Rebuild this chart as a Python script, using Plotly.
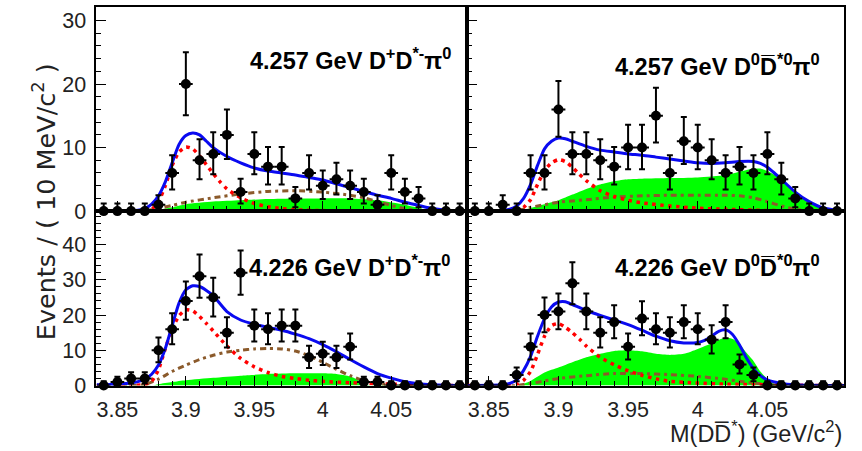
import plotly.graph_objects as go

W = 862
REF_H = 451          # pixel grid of the target picture
H = 460              # page is captured slightly taller and scaled to 451

# ---------------- data ----------------
mass_bins = [3.84, 3.85, 3.86, 3.87, 3.88, 3.89, 3.90, 3.91, 3.92, 3.93, 3.94, 3.95, 3.96, 3.97,
             3.98, 3.99, 4.00, 4.01, 4.02, 4.03, 4.04, 4.05, 4.06, 4.07, 4.08, 4.09, 4.10]
bin_half = 0.005

# 4.257 GeV D+ D*- pi0
tl_counts = [0, 0, 0, 0, 1, 6, 20, 8, 9, 12, 3, 9, 7, 7, 2, 6, 4, 5, 4, 3, 1, 6, 3, 2, 0, 0, 0]
tl_err_lo = [0, 0, 0, 0, 0.9, 2.6, 4.9, 3.0, 3.2, 3.8, 1.8, 3.2, 2.8, 2.8, 1.4, 2.6, 2.1, 2.4, 2.1, 1.8, 0.9, 2.6, 1.8, 1.4, 0, 0, 0]
tl_err_hi = [1.2, 1.2, 1.2, 1.2, 1.5, 2.8, 5.0, 3.3, 3.4, 4.0, 2.1, 3.4, 3.1, 3.1, 1.8, 2.8, 2.4, 2.6, 2.4, 2.1, 1.5, 2.8, 2.1, 1.8, 1.2, 1.2, 1.2]
tl_tot_x = [3.835, 3.85, 3.86, 3.865, 3.87, 3.875, 3.88, 3.885, 3.89, 3.895, 3.90, 3.905, 3.91, 3.915, 3.92, 3.93, 3.94,
            3.95, 3.96, 3.97, 3.98, 3.99, 4.00, 4.01, 4.02, 4.03, 4.04, 4.05, 4.06, 4.07, 4.08, 4.09, 4.105]
tl_tot_y = [0, 0, 0.05, 0.15, 0.4, 1.1, 2.4, 4.6, 7.6, 10.5, 11.9, 12.3, 12.0, 11.0, 10.0, 8.6, 7.6,
            6.8, 6.3, 6.0, 5.7, 5.3, 4.9, 4.3, 3.7, 3.1, 2.5, 2.0, 1.4, 0.9, 0.4, 0.15, 0]
tl_sig_x = [3.835, 3.86, 3.87, 3.875, 3.88, 3.885, 3.89, 3.895, 3.90, 3.905, 3.91, 3.915, 3.92, 3.925, 3.93, 3.94,
            3.95, 3.96, 3.97, 3.98, 4.00, 4.03, 4.105]
tl_sig_y = [0, 0, 0.05, 0.3, 1.5, 4.0, 7.2, 9.3, 10.1, 9.8, 8.7, 7.3, 5.9, 4.6, 3.5, 2.1,
            1.2, 0.7, 0.4, 0.2, 0.08, 0.02, 0]
tl_bkg_x = [3.835, 3.86, 3.87, 3.88, 3.89, 3.90, 3.92, 3.94, 3.96, 3.98, 4.00, 4.02, 4.03, 4.04, 4.05, 4.06, 4.07, 4.08, 4.105]
tl_bkg_y = [0, 0, 0.1, 0.4, 0.9, 1.4, 2.1, 2.7, 3.1, 3.2, 3.0, 2.5, 2.1, 1.5, 0.9, 0.4, 0.1, 0, 0]
tl_grn_x = [3.835, 3.87, 3.875, 3.88, 3.89, 3.90, 3.92, 3.94, 3.96, 3.98, 4.00, 4.02, 4.04, 4.06, 4.07, 4.075, 4.08, 4.105]
tl_grn_y = [0, 0, 0.05, 0.2, 0.6, 1.1, 1.5, 1.7, 1.9, 2.0, 2.0, 2.0, 1.7, 1.0, 0.5, 0.25, 0, 0]

# 4.257 GeV D0 D*0bar pi0
tr_counts = [0, 0, 1, 0, 6, 6, 16, 9, 9, 8, 7, 10, 10, 15, 6, 11, 10, 8, 6, 7, 6, 9, 5, 2, 0, 0, 0]
tr_err_lo = [0, 0, 0.9, 0, 2.6, 2.6, 4.3, 3.2, 3.2, 3.0, 2.8, 3.4, 3.4, 4.2, 2.6, 3.6, 3.4, 3.0, 2.6, 2.8, 2.6, 3.2, 2.4, 1.4, 0, 0, 0]
tr_err_hi = [1.2, 1.2, 1.5, 1.2, 2.8, 2.8, 4.5, 3.4, 3.4, 3.3, 3.1, 3.6, 3.6, 4.4, 2.8, 3.8, 3.6, 3.3, 2.8, 3.1, 2.8, 3.4, 2.6, 1.8, 1.2, 1.2, 1.2]
tr_tot_x = [3.835, 3.855, 3.865, 3.87, 3.875, 3.88, 3.885, 3.89, 3.895, 3.90, 3.905, 3.91, 3.92, 3.93, 3.94, 3.95, 3.96,
            3.97, 3.98, 3.99, 4.00, 4.01, 4.02, 4.03, 4.04, 4.045, 4.05, 4.055, 4.06, 4.07, 4.08, 4.09, 4.105]
tr_tot_y = [0, 0.05, 0.3, 0.8, 2.0, 4.2, 7.2, 9.8, 11.0, 11.5, 11.4, 11.0, 10.2, 9.6, 9.3, 9.0, 8.8,
            8.5, 8.2, 7.9, 7.6, 7.5, 7.6, 7.8, 7.8, 7.5, 6.9, 6.0, 5.0, 3.0, 1.5, 0.5, 0]
tr_sig_x = [3.835, 3.865, 3.87, 3.875, 3.88, 3.885, 3.89, 3.895, 3.90, 3.905, 3.91, 3.915, 3.92, 3.93, 3.94, 3.95,
            3.96, 3.98, 4.00, 4.02, 4.05, 4.08, 4.105]
tr_sig_y = [0, 0, 0.1, 0.6, 1.8, 4.2, 6.4, 7.6, 8.1, 7.8, 6.9, 5.8, 4.8, 3.2, 2.3, 1.7,
            1.3, 0.8, 0.45, 0.3, 0.1, 0.03, 0]
tr_bkg_x = [3.835, 3.865, 3.875, 3.88, 3.89, 3.90, 3.91, 3.92, 3.94, 3.96, 3.98, 4.00, 4.02, 4.03, 4.04, 4.05, 4.06, 4.07, 4.08, 4.105]
tr_bkg_y = [0, 0, 0.3, 0.6, 1.0, 1.4, 1.6, 1.8, 2.2, 2.4, 2.5, 2.5, 2.5, 2.4, 2.1, 1.5, 0.8, 0.3, 0.05, 0]
tr_grn_x = [3.835, 3.87, 3.875, 3.88, 3.89, 3.90, 3.91, 3.92, 3.93, 3.94, 3.95, 3.96, 3.98, 4.00, 4.02, 4.03,
            4.04, 4.045, 4.05, 4.06, 4.07, 4.08, 4.09, 4.095, 4.105]
tr_grn_y = [0, 0, 0.2, 0.5, 1.1, 1.7, 2.6, 3.5, 4.2, 4.7, 5.0, 5.1, 5.2, 5.3, 5.7, 6.2,
            6.7, 6.7, 6.3, 5.0, 3.0, 1.3, 0.4, 0.1, 0]

# 4.226 GeV D+ D*- pi0
bl_counts = [0, 1, 2, 2, 10, 16, 24, 31, 25, 15, 32, 17, 16, 17, 17, 8, 9, 8, 11, 1, 1, 0, 0, 0, 0, 0, 0]
bl_err_lo = [0, 0.9, 1.4, 1.4, 3.4, 4.3, 5.3, 6.1, 5.4, 4.2, 6.2, 4.5, 4.3, 4.5, 4.5, 3.0, 3.2, 3.0, 3.6, 0.9, 0.9, 0, 0, 0, 0, 0, 0]
bl_err_hi = [1.2, 1.5, 1.8, 1.8, 3.6, 4.5, 5.5, 6.2, 5.6, 4.4, 6.3, 4.6, 4.5, 4.6, 4.6, 3.3, 3.4, 3.3, 3.8, 1.5, 1.5, 1.2, 1.2, 1.2, 1.2, 1.2, 1.2]
bl_tot_x = [3.835, 3.85, 3.86, 3.865, 3.87, 3.875, 3.88, 3.885, 3.89, 3.895, 3.90, 3.905, 3.91, 3.915, 3.92, 3.93, 3.94,
            3.95, 3.96, 3.97, 3.98, 3.99, 4.00, 4.01, 4.02, 4.03, 4.04, 4.05, 4.06, 4.07, 4.08, 4.09, 4.105]
bl_tot_y = [0.2, 0.4, 0.7, 1.1, 1.8, 3.2, 5.8, 10.5, 17.0, 23.4, 27.2, 28.3, 28.1, 27.0, 25.5, 21.0, 18.6,
            17.4, 16.5, 15.7, 14.6, 13.3, 11.6, 9.6, 7.4, 5.3, 3.4, 2.1, 1.1, 0.5, 0.2, 0.05, 0]
bl_sig_x = [3.835, 3.86, 3.87, 3.875, 3.88, 3.885, 3.89, 3.895, 3.90, 3.905, 3.91, 3.915, 3.92, 3.93, 3.94, 3.95,
            3.96, 3.97, 3.98, 3.99, 4.00, 4.02, 4.05, 4.08, 4.105]
bl_sig_y = [0, 0, 0.3, 1.2, 4.5, 10.5, 16.0, 19.8, 21.5, 21.2, 19.6, 17.6, 15.5, 11.2, 7.7, 5.3,
            3.7, 2.6, 2.0, 1.5, 1.2, 0.8, 0.4, 0.1, 0]
bl_bkg_x = [3.835, 3.86, 3.87, 3.88, 3.89, 3.90, 3.91, 3.92, 3.93, 3.94, 3.95, 3.96, 3.97, 3.98, 3.99, 4.00,
            4.01, 4.02, 4.03, 4.04, 4.05, 4.06, 4.105]
bl_bkg_y = [0, 0, 0.3, 1.8, 4.0, 5.8, 7.4, 8.6, 9.5, 10.0, 10.4, 10.5, 10.4, 9.8, 8.5, 6.6,
            4.6, 2.8, 1.4, 0.5, 0.1, 0, 0]
bl_grn_x = [3.835, 3.875, 3.88, 3.89, 3.90, 3.92, 3.94, 3.96, 3.98, 4.00, 4.01, 4.02, 4.025, 4.03, 4.035, 4.105]
bl_grn_y = [0, 0, 0.4, 1.0, 1.5, 2.2, 2.8, 3.3, 3.5, 3.5, 3.3, 2.6, 1.8, 0.8, 0, 0]

# 4.226 GeV D0 D*0bar pi0
br_counts = [0, 0, 0, 3, 11, 20, 21, 29, 21, 15, 18, 11, 19, 16, 15, 18, 16, 13, 18, 6, 3, 0, 0, 0, 0, 0, 0]
br_err_lo = [0, 0, 0, 1.8, 3.6, 4.9, 5.0, 5.9, 5.0, 4.2, 4.6, 3.6, 4.7, 4.3, 4.2, 4.6, 4.3, 3.9, 4.6, 2.6, 1.8, 0, 0, 0, 0, 0, 0]
br_err_hi = [1.2, 1.2, 1.2, 2.1, 3.8, 5.0, 5.1, 6.0, 5.1, 4.4, 4.8, 3.8, 4.9, 4.5, 4.4, 4.8, 4.5, 4.1, 4.8, 2.8, 2.1, 1.2, 1.2, 1.2, 1.2, 1.2, 1.2]
br_tot_x = [3.835, 3.86, 3.865, 3.87, 3.875, 3.88, 3.885, 3.89, 3.895, 3.90, 3.905, 3.91, 3.92, 3.93, 3.94, 3.95,
            3.96, 3.97, 3.98, 3.99, 4.00, 4.005, 4.01, 4.015, 4.02, 4.025, 4.03, 4.035, 4.04, 4.045, 4.05,
            4.06, 4.07, 4.08, 4.105]
br_tot_y = [0, 0.2, 0.6, 1.6, 4.3, 8.3, 14.0, 19.0, 22.3, 23.7, 23.8, 23.0, 21.3, 19.9, 18.6, 17.3,
            15.7, 14.0, 12.7, 12.1, 12.2, 12.8, 14.0, 15.4, 15.8, 14.5, 11.5, 7.8, 4.8, 2.8, 1.6,
            0.6, 0.2, 0.05, 0]
br_sig_x = [3.835, 3.865, 3.87, 3.875, 3.88, 3.885, 3.89, 3.895, 3.90, 3.905, 3.91, 3.915, 3.92, 3.93, 3.94, 3.95,
            3.96, 3.97, 3.98, 4.00, 4.02, 4.05, 4.08, 4.105]
br_sig_y = [0, 0, 0.3, 1.5, 4.0, 8.8, 14.0, 17.0, 17.6, 16.5, 15.0, 13.2, 11.2, 8.0, 5.9, 4.2,
            2.9, 1.9, 1.2, 0.7, 0.4, 0.2, 0.05, 0]
br_bkg_x = [3.835, 3.87, 3.875, 3.88, 3.89, 3.90, 3.92, 3.94, 3.96, 3.98, 4.00, 4.02, 4.03, 4.04, 4.05, 4.06, 4.105]
br_bkg_y = [0, 0, 0.3, 0.6, 1.3, 2.0, 2.8, 3.4, 3.4, 3.1, 2.6, 1.8, 1.2, 0.7, 0.3, 0.05, 0]
br_grn_x = [3.835, 3.87, 3.875, 3.88, 3.89, 3.90, 3.91, 3.92, 3.93, 3.94, 3.95, 3.96, 3.97, 3.98, 3.99, 4.00,
            4.01, 4.015, 4.02, 4.025, 4.03, 4.035, 4.04, 4.045, 4.05, 4.055, 4.06, 4.105]
br_grn_y = [0, 0, 0.5, 1.3, 3.7, 5.1, 6.6, 8.0, 9.0, 9.8, 10.0, 9.7, 9.0, 8.7, 9.0, 10.4,
            12.0, 12.9, 13.6, 13.2, 11.8, 9.3, 7.0, 4.0, 1.8, 0.4, 0, 0]

panel_labels = ["4.257 GeV D<sup>+</sup>D<sup>*-</sup>π<sup>0</sup>",
                "4.257 GeV D<sup>0</sup>D\u0305<sup>*0</sup>π<sup>0</sup>",
                "4.226 GeV D<sup>+</sup>D<sup>*-</sup>π<sup>0</sup>",
                "4.226 GeV D<sup>0</sup>D\u0305<sup>*0</sup>π<sup>0</sup>"]
x_title = "M(DD\u0305<sup>*</sup>) (GeV/c<sup>2</sup>)"
y_title = "Events / ( 10 MeV/c<sup>2</sup> )"
x_ticks = [3.85, 3.9, 3.95, 4.0, 4.05]
x_ticktext = ["3.85", "3.9", "3.95", "4", "4.05"]

# ---------------- styling ----------------
BLUE = "#0a0af0"
RED = "#ff0000"
GREEN = "#00ff00"
BROWN = "#8b5a2b"
FONT = "Liberation Sans, Arial, sans-serif"

def px_x(p):
    return p / W

def px_y(p):
    return 1 - p / REF_H

x_left = [px_x(95.5), px_x(466.5)]
x_right = [px_x(466.5), px_x(844)]
y_top = [px_y(213), px_y(7)]
y_bot = [px_y(389), px_y(213)]
x_range = [3.834, 4.105]
y_range_top = [0, 32.14]
y_range_bot = [0, 49.5]

fig = go.Figure()

panels = [
    ("x", "y", tl_counts, tl_err_lo, tl_err_hi, tl_tot_x, tl_tot_y, tl_sig_x, tl_sig_y, tl_bkg_x, tl_bkg_y, tl_grn_x, tl_grn_y),
    ("x2", "y2", tr_counts, tr_err_lo, tr_err_hi, tr_tot_x, tr_tot_y, tr_sig_x, tr_sig_y, tr_bkg_x, tr_bkg_y, tr_grn_x, tr_grn_y),
    ("x3", "y3", bl_counts, bl_err_lo, bl_err_hi, bl_tot_x, bl_tot_y, bl_sig_x, bl_sig_y, bl_bkg_x, bl_bkg_y, bl_grn_x, bl_grn_y),
    ("x4", "y4", br_counts, br_err_lo, br_err_hi, br_tot_x, br_tot_y, br_sig_x, br_sig_y, br_bkg_x, br_bkg_y, br_grn_x, br_grn_y),
]

for (xa, ya, cnt, elo, ehi, tx, ty, sx, sy, bx, by, gx, gy) in panels:
    fig.add_trace(go.Scatter(x=gx, y=gy, xaxis=xa, yaxis=ya, mode="lines", fill="tozeroy",
                             fillcolor=GREEN, line=dict(width=0, color=GREEN, shape="spline", smoothing=0.6),
                             hoverinfo="skip", showlegend=False))
    fig.add_trace(go.Scatter(x=bx, y=by, xaxis=xa, yaxis=ya, mode="lines",
                             line=dict(width=3, color=BROWN, dash="6px,4px,3px,4px", shape="spline", smoothing=0.6),
                             showlegend=False))
    fig.add_trace(go.Scatter(x=sx, y=sy, xaxis=xa, yaxis=ya, mode="lines",
                             line=dict(width=3.5, color=RED, dash="3.5px,4.5px", shape="spline", smoothing=0.6),
                             showlegend=False))
    fig.add_trace(go.Scatter(x=tx, y=ty, xaxis=xa, yaxis=ya, mode="lines",
                             line=dict(width=3, color=BLUE, shape="spline", smoothing=0.6),
                             showlegend=False))
    fig.add_trace(go.Scatter(x=mass_bins, y=cnt, xaxis=xa, yaxis=ya, mode="markers",
                             marker=dict(size=10, color="black", symbol="circle"),
                             error_y=dict(type="data", symmetric=False, array=ehi, arrayminus=elo,
                                          color="black", thickness=2, width=3),
                             error_x=dict(type="constant", value=bin_half, color="black", thickness=2, width=0),
                             cliponaxis=False, showlegend=False))

def xaxis(domain, anchor, labels):
    return dict(domain=domain, anchor=anchor, range=x_range, showgrid=False, zeroline=False,
                showline=True, linecolor="black", linewidth=2, mirror=True,
                ticks="inside", tickvals=x_ticks, ticktext=x_ticktext, ticklen=10, tickwidth=1, tickcolor="black",
                minor=dict(dtick=0.01, tick0=3.84, ticks="inside", ticklen=5, tickwidth=1, tickcolor="black"),
                showticklabels=labels, ticklabelstandoff=4,
                tickfont=dict(family=FONT, size=21.5, color="#222"))

def yaxis(domain, anchor, rng, labels):
    return dict(domain=domain, anchor=anchor, range=rng, showgrid=False, zeroline=False,
                showline=True, linecolor="black", linewidth=2, mirror=True,
                ticks="inside", dtick=10, tick0=0, ticklen=10, tickwidth=1, tickcolor="black",
                minor=dict(dtick=2, ticks="inside", ticklen=5, tickwidth=1, tickcolor="black"),
                showticklabels=labels, ticklabelstandoff=3,
                tickfont=dict(family=FONT, size=21.5, color="#222"))

fig.update_layout(
    width=W, height=H, autosize=False, margin=dict(l=0, r=0, t=0, b=0),
    paper_bgcolor="white", plot_bgcolor="white",
    xaxis=xaxis(x_left, "y", False),
    yaxis=yaxis(y_top, "x", y_range_top, True),
    xaxis2=xaxis(x_right, "y2", False),
    yaxis2=yaxis(y_top, "x2", y_range_top, False),
    xaxis3=xaxis(x_left, "y3", True),
    yaxis3=yaxis(y_bot, "x3", y_range_bot, True),
    xaxis4=xaxis(x_right, "y4", True),
    yaxis4=yaxis(y_bot, "x4", y_range_bot, False),
)

label_pos = [(453, 60), (822, 66), (452, 268), (822, 268)]
annots = []
for txt, (px, py) in zip(panel_labels, label_pos):
    annots.append(dict(text="<b>" + txt + "</b>", x=px_x(px), y=px_y(py), xref="paper", yref="paper",
                       xanchor="right", yanchor="middle", showarrow=False,
                       font=dict(family=FONT, size=23.5, color="black")))
annots.append(dict(text=x_title, x=px_x(844), y=px_y(436), xref="paper", yref="paper",
                   xanchor="right", yanchor="middle", showarrow=False,
                   font=dict(family=FONT, size=23.5, color="#222")))
annots.append(dict(text=y_title, x=px_x(44), y=px_y(204), xref="paper", yref="paper",
                   xanchor="center", yanchor="middle", textangle=-90, showarrow=False,
                   font=dict(family="DejaVu Sans, sans-serif", size=25.5, color="#222")))
fig.update_layout(annotations=annots)

fig.write_html("out.html")
